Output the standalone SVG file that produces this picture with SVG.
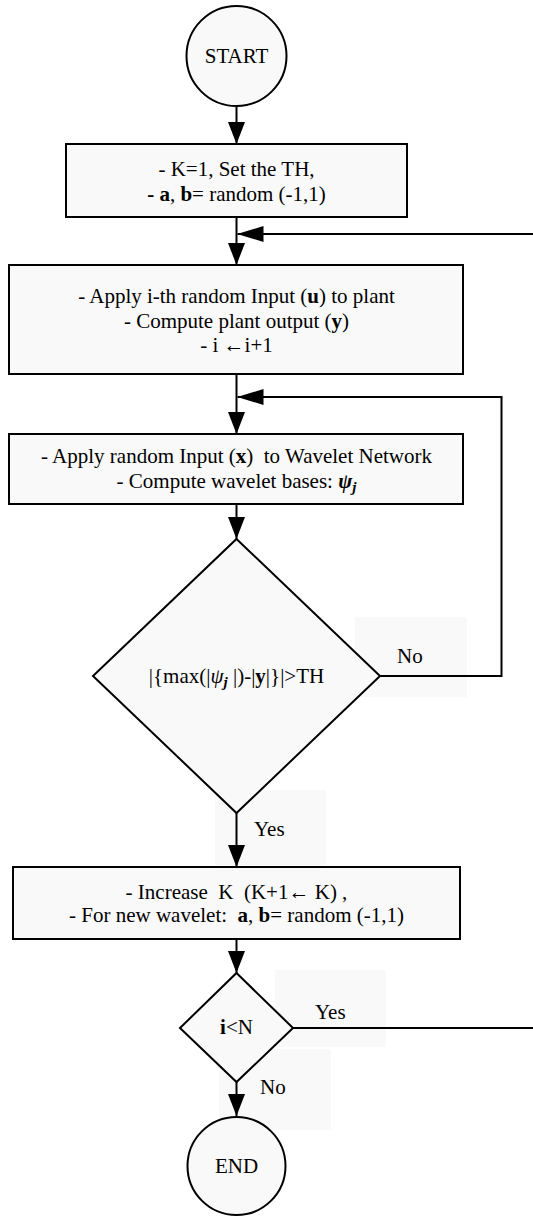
<svg xmlns="http://www.w3.org/2000/svg" width="533" height="1216" viewBox="0 0 533 1216">
<style>
.n{fill:#f9f9f9;stroke:#000;stroke-width:2}
.lb{fill:#f9f9f9;stroke:none}
.c{fill:none;stroke:#000;stroke-width:2}
text{font-family:"Liberation Serif","Times New Roman",serif;font-size:21px;fill:#000}
.m{text-anchor:middle}
.b{font-weight:bold}
.i{font-style:italic}
</style>
<defs>
<marker id="ah" markerWidth="22" markerHeight="17" refX="22" refY="8.5" orient="auto" markerUnits="userSpaceOnUse">
<path d="M0,0 L22,8.5 L0,17 Z" fill="#000"/>
</marker>
<marker id="ahl" markerWidth="26" markerHeight="16" refX="26" refY="8" orient="auto" markerUnits="userSpaceOnUse">
<path d="M0,0 L26,8 L0,16 Z" fill="#000"/>
</marker>
</defs>
<rect width="533" height="1216" fill="#fff"/>
<g id="labels">
<rect class="lb" x="355" y="617" width="112" height="80"/>
<rect class="lb" x="215" y="790" width="111" height="75"/>
<rect class="lb" x="275" y="970" width="111" height="77"/>
<rect class="lb" x="219" y="1049" width="112" height="81"/>
<text x="397" y="663">No</text>
<text x="254" y="836">Yes</text>
<text x="315" y="1019">Yes</text>
<text x="260" y="1094">No</text>
</g>
<g id="connectors">
<line class="c" x1="236.5" y1="106" x2="236.5" y2="144" marker-end="url(#ah)"/>
<line class="c" x1="236.5" y1="217" x2="236.5" y2="265" marker-end="url(#ah)"/>
<line class="c" x1="236.5" y1="374" x2="236.5" y2="434" marker-end="url(#ah)"/>
<line class="c" x1="236.5" y1="504" x2="236.5" y2="539" marker-end="url(#ah)"/>
<line class="c" x1="236.5" y1="813" x2="236.5" y2="867" marker-end="url(#ah)"/>
<line class="c" x1="236.5" y1="939" x2="236.5" y2="973" marker-end="url(#ah)"/>
<line class="c" x1="236.5" y1="1082" x2="236.5" y2="1116" marker-end="url(#ah)"/>
<polyline class="c" points="380,676 501.5,676 501.5,397 237.5,397" marker-end="url(#ahl)"/>
<polyline class="c" points="293,1028 545,1028 545,234 237.5,234" marker-end="url(#ahl)"/>
</g>
<g id="start">
<circle class="n" cx="236.5" cy="56" r="50"/>
<text class="m" x="236.5" y="63">START</text>
</g>
<g id="init">
<rect class="n" x="66" y="144" width="341" height="73"/>
<text class="m" x="236.5" y="176">- K=1, Set the TH,</text>
<text class="m" x="236.5" y="201"><tspan class="b">- a</tspan>, <tspan class="b">b</tspan>= random (-1,1)</text>
</g>
<g id="plant">
<rect class="n" x="9" y="265" width="454" height="109"/>
<text class="m" x="236.5" y="303">- Apply i-th random Input (<tspan class="b">u</tspan>) to plant</text>
<text class="m" x="236.5" y="328">- Compute plant output (<tspan class="b">y</tspan>)</text>
<text class="m" x="236.5" y="352">- i ←i+1</text>
</g>
<g id="wavelet">
<rect class="n" x="9" y="434" width="454" height="70"/>
<text class="m" x="236.5" y="463" xml:space="preserve">- Apply random Input (<tspan class="b">x</tspan>)  to Wavelet Network</text>
<text class="m" x="236.5" y="488">- Compute wavelet bases: <tspan class="b i">ψ</tspan><tspan class="b i" font-size="15" dy="4">j</tspan></text>
</g>
<g id="cond1">
<polygon class="n" points="236.5,539 380,676 236.5,813 93,676"/>
<text class="m" x="236.5" y="683" xml:space="preserve">|{max(|<tspan class="i">ψ</tspan><tspan class="b i" font-size="15" dy="4">j</tspan><tspan dy="-4"> |)-|</tspan><tspan class="b">y</tspan>|}|&gt;TH</text>
</g>
<g id="increase">
<rect class="n" x="13" y="867" width="447" height="72"/>
<text class="m" x="236.5" y="899" xml:space="preserve">- Increase  K  (K+1← K) ,</text>
<text class="m" x="236.5" y="922" xml:space="preserve">- For new wavelet:  <tspan class="b">a</tspan>, <tspan class="b">b</tspan>= random (-1,1)</text>
</g>
<g id="cond2">
<polygon class="n" points="236.5,973 293,1028 236.5,1082 180,1028"/>
<text class="m" x="236.5" y="1034"><tspan class="b">i</tspan>&lt;N</text>
</g>
<g id="end">
<circle class="n" cx="236.5" cy="1166" r="49"/>
<text class="m" x="236.5" y="1173">END</text>
</g>
</svg>
